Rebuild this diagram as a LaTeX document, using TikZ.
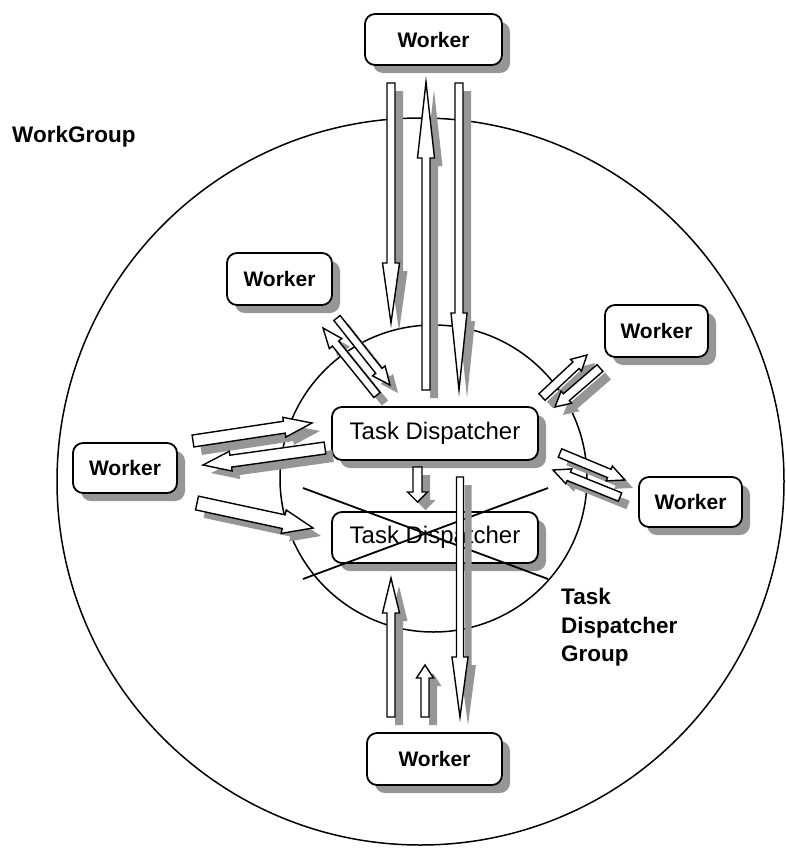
\documentclass[tikz,border=0pt]{standalone}
\usepackage{fontspec}
\setmainfont{Liberation Sans}
\usetikzlibrary{calc,shadows}
\definecolor{shadowgray}{RGB}{150,150,150}

\tikzset{
  box/.style={draw, line width=1.8pt, rounded corners=10pt, fill=white, inner sep=0pt,
    drop shadow={shadow xshift=8pt, shadow yshift=-8pt, fill=shadowgray, opacity=1}},
  worker/.style={box, font=\bfseries\fontsize{21}{25}\selectfont},
  dispatcher/.style={box, minimum width=206pt, font=\fontsize{24}{28}\selectfont},
  ring/.style={draw, line width=1.5pt},
  strike/.style={draw, line width=1.8pt},
  blockbody/.style={fill=white, draw, line width=1.4pt, line join=miter},
  blockshadow/.style={fill=shadowgray},
  label/.style={inner sep=0pt, font=\bfseries\fontsize{22.5}{28.5}\selectfont},
}

% hollow block arrow: tail, tip, half shaft width, half head width, head length
\newcommand\blkshadow[5]{%
  \coordinate (#1-hb) at ($(#2)!#5!(#1)$);
  \fill[blockshadow, transform canvas={xshift=8pt,yshift=-8pt}]
    ($(#1)!#3!90:(#2)$) -- ($(#1-hb)!#3!90:(#2)$) -- ($(#1-hb)!#4!90:(#2)$) -- (#2)
    -- ($(#1-hb)!#4!-90:(#2)$) -- ($(#1-hb)!#3!-90:(#2)$) -- ($(#1)!#3!-90:(#2)$) -- cycle;}
\newcommand\blkbody[5]{%
  \coordinate (#1-hb) at ($(#2)!#5!(#1)$);
  \filldraw[blockbody]
    ($(#1)!#3!90:(#2)$) -- ($(#1-hb)!#3!90:(#2)$) -- ($(#1-hb)!#4!90:(#2)$) -- (#2)
    -- ($(#1-hb)!#4!-90:(#2)$) -- ($(#1-hb)!#3!-90:(#2)$) -- ($(#1)!#3!-90:(#2)$) -- cycle;}

\newcommand\arrowlist{%
  \blk{a-t}{a-h}{4pt}{8.5pt}{60pt}
  \blk{b-t}{b-h}{4pt}{8.5pt}{76pt}
  \blk{c-t}{c-h}{4pt}{8pt}{77pt}
  \blk{d-t}{d-h}{3.5pt}{8pt}{60pt}
  \blk{e-t}{e-h}{4pt}{8.5pt}{35pt}
  \blk{f-t}{f-h}{4pt}{8.5pt}{13pt}
  \blk{g-t}{g-h}{4.5pt}{10pt}{10pt}
  \blk{ul1-t}{ul1-h}{4pt}{8pt}{18pt}
  \blk{ul2-t}{ul2-h}{4pt}{8pt}{20pt}
  \blk{ur1-t}{ur1-h}{4.5pt}{8pt}{15pt}
  \blk{ur2-t}{ur2-h}{4.5pt}{8pt}{15pt}
  \blk{rl1-t}{rl1-h}{4.5pt}{8pt}{17pt}
  \blk{rl2-t}{rl2-h}{4.5pt}{8pt}{17pt}
  \blk{l1-t}{l1-h}{6pt}{10pt}{28pt}
  \blk{l2-t}{l2-h}{6pt}{10pt}{28pt}
  \blk{l3-t}{l3-h}{7pt}{12pt}{30pt}
}

\begin{document}
\begin{tikzpicture}[x=1pt, y=-1pt]
  \useasboundingbox (0,0) rectangle (785,849);

  % group boundaries
  \coordinate (wgc) at (420.5,481.5);
  \coordinate (tdc) at (433.5,478.5);
  \draw[ring] (wgc) circle[radius=363.5pt];
  \draw[ring] (tdc) circle[radius=153.5pt];

  % workers and dispatchers
  \node[worker, minimum width=137pt, minimum height=51pt] (wtop) at (433.5,39.5) {Worker};
  \node[worker, minimum width=105pt, minimum height=52pt] (wul) at (279.5,279) {Worker};
  \node[worker, minimum width=103pt, minimum height=52pt] (wur) at (656.5,331) {Worker};
  \node[worker, minimum width=103pt, minimum height=50pt] (wrl) at (690.5,502) {Worker};
  \node[worker, minimum width=104pt, minimum height=50pt] (wl) at (125,468) {Worker};
  \node[worker, minimum width=135pt, minimum height=52pt] (wbot) at (434.5,759) {Worker};
  \node[dispatcher, minimum height=53pt] (td1) at (435,433.5) {Task Dispatcher};
  \node[dispatcher, minimum height=51pt] (td2) at (435,537.5) {Task Dispatcher};

  % labels
  \node[label, anchor=base west] (wg) at (12,142) {WorkGroup};
  \node[label, anchor=north west, align=left] (tdg) at (561,588) {Task\\Dispatcher\\Group};

  % the failed dispatcher is struck out
  \coordinate (x1) at (303,488);
  \coordinate (x2) at (548,579);
  \coordinate (x3) at (303,579);
  \coordinate (x4) at (548,488);
  \draw[strike] (x1) -- (x2);
  \draw[strike] (x3) -- (x4);

  % arrow end points
  \coordinate (a-t) at (391,83);    \coordinate (a-h) at (391,323);
  \coordinate (b-t) at (426,390);   \coordinate (b-h) at (426,82);
  \coordinate (c-t) at (459,83);    \coordinate (c-h) at (459,390);
  \coordinate (d-t) at (460,477);   \coordinate (d-h) at (460,717);
  \coordinate (e-t) at (391,717);   \coordinate (e-h) at (391,578);
  \coordinate (f-t) at (425,717);   \coordinate (f-h) at (425,665);
  \coordinate (g-t) at (417.5,467); \coordinate (g-h) at (417.5,502);
  \coordinate (ul1-t) at (337,318); \coordinate (ul1-h) at (390,385);
  \coordinate (ul2-t) at (377,395); \coordinate (ul2-h) at (323,328);
  \coordinate (ur1-t) at (542,397); \coordinate (ur1-h) at (587,355);
  \coordinate (ur2-t) at (600,368); \coordinate (ur2-h) at (555,407);
  \coordinate (rl1-t) at (560,453); \coordinate (rl1-h) at (625,480);
  \coordinate (rl2-t) at (620,497); \coordinate (rl2-h) at (553,470);
  \coordinate (l1-t) at (193,441);  \coordinate (l1-h) at (312,423);
  \coordinate (l2-t) at (325,448);  \coordinate (l2-h) at (203,465);
  \coordinate (l3-t) at (197,503);  \coordinate (l3-h) at (313,528);

  % shadows first, then the hollow arrows on top
  \let\blk\blkshadow \arrowlist
  \let\blk\blkbody \arrowlist
\end{tikzpicture}
\end{document}
